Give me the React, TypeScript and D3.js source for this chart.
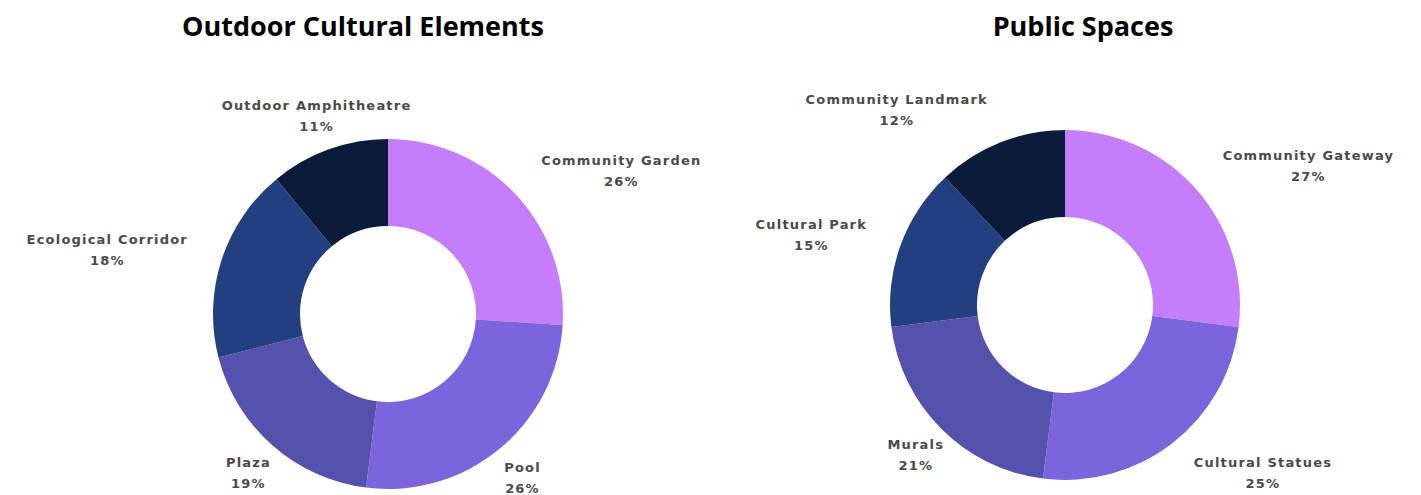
import React from 'react';
import * as d3 from 'd3';

const titles = ['Outdoor Cultural Elements', 'Public Spaces'];

const outdoorLabels = ['Community Garden', 'Pool', 'Plaza', 'Ecological Corridor', 'Outdoor Amphitheatre'];
const outdoorValues = [26, 26, 19, 18, 11];

const publicLabels = ['Community Gateway', 'Cultural Statues', 'Murals', 'Cultural Park', 'Community Landmark'];
const publicValues = [27, 25, 21, 15, 12];

const colors = ['#C47EFC', '#7C64DC', '#5552AE', '#233F7F', '#0B1C3B'];

const WIDTH = 1421;
const HEIGHT = 495;
const OUTER = 175;
const INNER = 88;
const LABEL_R = 211;
const LABEL_FONT_SIZE = 13;
const LABEL_SPACING = 1.2;
const LABEL_FONT = `bold ${LABEL_FONT_SIZE}px "DejaVu Sans"`;

const panels = [
  { title: titles[0], labels: outdoorLabels, values: outdoorValues, cx: 388, cy: 314, titleX: 363 },
  { title: titles[1], labels: publicLabels, values: publicValues, cx: 1065, cy: 305, titleX: 1083 },
];

let ctx: CanvasRenderingContext2D | null = null;
const measure = (s: string) => {
  if (!ctx) {
    ctx = document.createElement('canvas').getContext('2d');
  }
  if (!ctx) return s.length * 9;
  ctx.font = LABEL_FONT;
  return ctx.measureText(s).width + LABEL_SPACING * (s.length - 1);
};

const Donut: React.FC<{ labels: string[]; values: number[]; cx: number; cy: number }> = ({
  labels,
  values,
  cx,
  cy,
}) => {
  const pie = d3
    .pie<number>()
    .sort(null)
    .value((d) => d);
  const arcs = pie(values);
  const arc = d3.arc<d3.PieArcDatum<number>>().innerRadius(INNER).outerRadius(OUTER);
  const labelArc = d3.arc<d3.PieArcDatum<number>>().innerRadius(LABEL_R).outerRadius(LABEL_R);
  const total = d3.sum(values);

  return (
    <g transform={`translate(${cx},${cy})`}>
      {arcs.map((a, i) => (
        <path key={i} d={arc(a) || ''} fill={colors[i]} />
      ))}
      {arcs.map((a, i) => {
        const [ax, ay] = labelArc.centroid(a);
        const pct = `${Math.round((a.data / total) * 100)}%`;
        const w = Math.max(measure(labels[i]), measure(pct));
        // keep the label centred unless its box would run into the ring
        const hh = 30;
        const nx = Math.max(ax - w / 2, Math.min(0, ax + w / 2));
        const ny = Math.max(ay - hh, Math.min(0, ay + hh));
        const hits = Math.hypot(nx, ny) < OUTER - 7.6;
        const lx = !hits ? ax : ax > 0 ? ax + w / 2 : ax - w / 2;
        return (
          <text
            key={`l${i}`}
            x={lx}
            y={ay}
            textAnchor="middle"
            fontFamily='"DejaVu Sans", sans-serif'
            fontWeight="bold"
            fontSize={LABEL_FONT_SIZE}
            letterSpacing={LABEL_SPACING}
            fill="#4a4a4a"
          >
            <tspan x={lx} dy={-5}>
              {labels[i]}
            </tspan>
            <tspan x={lx} dy={21}>
              {pct}
            </tspan>
          </text>
        );
      })}
    </g>
  );
};

const App: React.FC = () => {
  return (
    <svg
      width={WIDTH}
      height={HEIGHT}
      style={{ position: 'absolute', left: 0, top: 0, background: '#fff' }}
    >
      {panels.map((p, i) => (
        <g key={i}>
          <text
            x={p.titleX}
            y={36}
            textAnchor="middle"
            fontFamily='"Open Sans", sans-serif'
            fontWeight={700}
            fontSize={27}
            fill="#000"
          >
            {p.title}
          </text>
          <Donut labels={p.labels} values={p.values} cx={p.cx} cy={p.cy} />
        </g>
      ))}
    </svg>
  );
};

export default App;
